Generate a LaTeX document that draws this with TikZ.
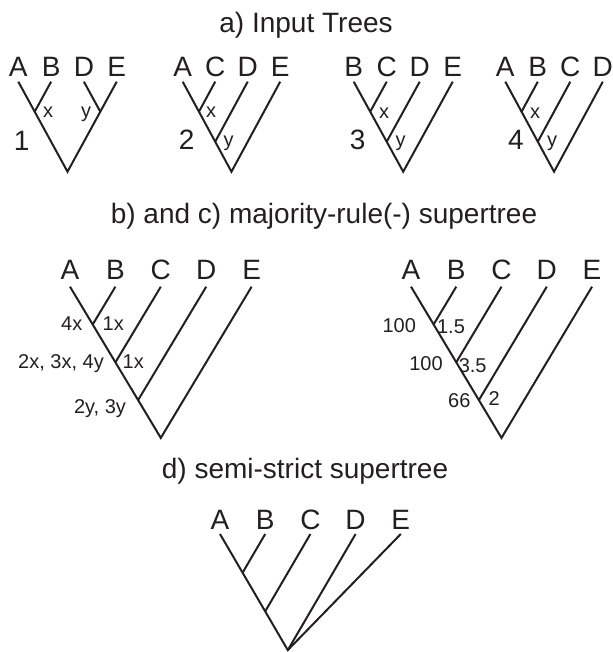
\documentclass[tikz,border=0pt]{standalone}
\usepackage{fontspec}
\setmainfont{Liberation Sans}
\definecolor{ink}{RGB}{35,31,32}
\begin{document}
\begin{tikzpicture}[x=1pt,y=-1pt,
  branch/.style={line width=2pt, draw=ink, line join=miter, line cap=butt},
  heading/.style={font=\fontsize{28}{28}\selectfont, text=ink, anchor=base, inner sep=0pt},
  leaf/.style={font=\fontsize{28}{28}\selectfont, text=ink, anchor=base, inner sep=0pt},
  treeno/.style={font=\fontsize{28}{28}\selectfont, text=ink, anchor=base, inner sep=0pt},
  clade/.style={font=\fontsize{20}{20}\selectfont, text=ink, anchor=base, inner sep=0pt}]
\useasboundingbox (0,0) rectangle (612,652);

% ---------- a) input trees ----------
\node[heading] (ta) at (306,33) {a) Input Trees};

% tree 1: ((A,B)x,(D,E)y)
\foreach \n/\x/\t in {a/18.3/A, b/51.1/B, d/83.9/D, e/116.7/E}{
  \node[leaf] (l1\n) at (\x,77) {\t};
  \coordinate (t1\n) at (\x,81.7);
}
\coordinate (n1x) at (34.7,111.7);
\coordinate (n1y) at (100.3,111.7);
\coordinate (r1) at (67.5,171.7);
\draw[branch] (t1a) -- (r1) -- (t1e);
\draw[branch] (t1b) -- (n1x);
\draw[branch] (t1d) -- (n1y);
\node[clade] (x1) at (48,118) {x};
\node[clade] (y1) at (86,118) {y};
\node[treeno] (k1) at (21.7,150.5) {1};

% tree 2: (((A,C)x,D)y,E)
\foreach \n/\x/\t in {a/182.7/A, c/215.2/C, d/247.7/D, e/280.2/E}{
  \node[leaf] (l2\n) at (\x,77) {\t};
  \coordinate (t2\n) at (\x,81.7);
}
\coordinate (n2x) at (198.95,111.7);
\coordinate (n2y) at (215.2,141.7);
\coordinate (r2) at (231.45,171.7);
\draw[branch] (t2a) -- (r2) -- (t2e);
\draw[branch] (t2c) -- (n2x);
\draw[branch] (t2d) -- (n2y);
\node[clade] (x2) at (211,118) {x};
\node[clade] (y2) at (228.5,147) {y};
\node[treeno] (k2) at (186.7,150) {2};

% tree 3: (((B,C)x,D)y,E)
\foreach \n/\x/\t in {b/353.7/B, c/386.7/C, d/419.7/D, e/452.7/E}{
  \node[leaf] (l3\n) at (\x,77) {\t};
  \coordinate (t3\n) at (\x,81.7);
}
\coordinate (n3x) at (370.2,111.7);
\coordinate (n3y) at (386.7,141.7);
\coordinate (r3) at (403.2,171.7);
\draw[branch] (t3b) -- (r3) -- (t3e);
\draw[branch] (t3c) -- (n3x);
\draw[branch] (t3d) -- (n3y);
\node[clade] (x3) at (384,119) {x};
\node[clade] (y3) at (400.5,147) {y};
\node[treeno] (k3) at (357.7,150) {3};

% tree 4: (((A,B)x,C)y,D)
\foreach \n/\x/\t in {a/505.3/A, b/537.8/B, c/570.3/C, d/602.8/D}{
  \node[leaf] (l4\n) at (\x,77) {\t};
  \coordinate (t4\n) at (\x,81.7);
}
\coordinate (n4x) at (521.55,111.7);
\coordinate (n4y) at (537.8,141.7);
\coordinate (r4) at (554.05,171.7);
\draw[branch] (t4a) -- (r4) -- (t4d);
\draw[branch] (t4b) -- (n4x);
\draw[branch] (t4c) -- (n4y);
\node[clade] (x4) at (535,119) {x};
\node[clade] (y4) at (552,147) {y};
\node[treeno] (k4) at (516,150) {4};

% ---------- b) and c) majority-rule(-) supertree ----------
\node[heading] (tb) at (324,223) {b) and c) majority-rule(-) supertree};

% left: clade support by input trees
\foreach \n/\x/\t in {a/70/A, b/115.4/B, c/160.8/C, d/206.2/D, e/251.6/E}{
  \node[leaf] (l5\n) at (\x,279) {\t};
  \coordinate (t5\n) at (\x,286.7);
}
\coordinate (n5ab) at (92.7,324.5);
\coordinate (n5abc) at (115.4,362.3);
\coordinate (n5abcd) at (138.1,400.1);
\coordinate (r5) at (160.8,437.9);
\draw[branch] (t5a) -- (r5) -- (t5e);
\draw[branch] (t5b) -- (n5ab);
\draw[branch] (t5c) -- (n5abc);
\draw[branch] (t5d) -- (n5abcd);
\node[clade] (s5a) at (71.7,330.5) {4x};
\node[clade] (s5b) at (113.3,330.5) {1x};
\node[clade] (s5c) at (61,368.5) {2x, 3x, 4y};
\node[clade] (s5d) at (133.3,368.5) {1x};
\node[clade] (s5e) at (100,413.5) {2y, 3y};

% right: support values
\foreach \n/\x/\t in {a/411/A, b/456.25/B, c/501.5/C, d/546.75/D, e/592/E}{
  \node[leaf] (l6\n) at (\x,279) {\t};
  \coordinate (t6\n) at (\x,286.7);
}
\coordinate (n6ab) at (433.6,324.5);
\coordinate (n6abc) at (456.25,362.3);
\coordinate (n6abcd) at (478.9,400.1);
\coordinate (r6) at (501.5,437.9);
\draw[branch] (t6a) -- (r6) -- (t6e);
\draw[branch] (t6b) -- (n6ab);
\draw[branch] (t6c) -- (n6abc);
\draw[branch] (t6d) -- (n6abcd);
\node[clade] (s6a) at (399.3,332) {100};
\node[clade] (s6b) at (451,333.5) {1.5};
\node[clade] (s6c) at (426,370) {100};
\node[clade] (s6d) at (472.7,372) {3.5};
\node[clade] (s6e) at (459.3,407) {66};
\node[clade] (s6f) at (494.3,405.5) {2};

% ---------- d) semi-strict supertree ----------
\node[heading] (td) at (305,478) {d) semi-strict supertree};
\foreach \n/\x/\t in {a/220/A, b/265.2/B, c/310.4/C, d/355.6/D, e/400.8/E}{
  \node[leaf] (l7\n) at (\x,529) {\t};
  \coordinate (t7\n) at (\x,534);
}
\coordinate (n7ab) at (242.6,572.7);
\coordinate (n7abc) at (265.2,611.4);
\coordinate (r7) at (287.8,650.1);
\draw[branch] (t7a) -- (r7) -- (t7e);
\draw[branch] (t7b) -- (n7ab);
\draw[branch] (t7c) -- (n7abc);
\draw[branch] (t7d) -- (r7);
\end{tikzpicture}
\end{document}
